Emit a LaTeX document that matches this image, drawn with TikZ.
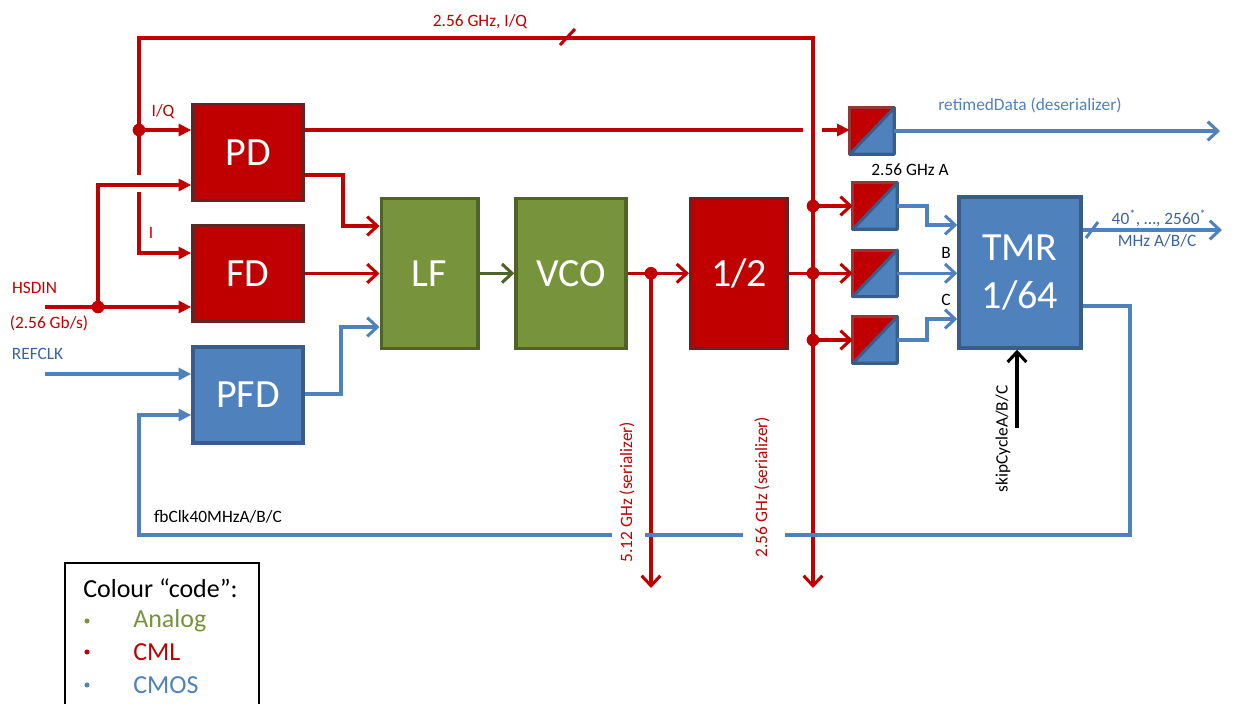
\documentclass[tikz,border=0pt]{standalone}
\usepackage{fontspec}
\setmainfont{Carlito}
\usetikzlibrary{arrows.meta,calc}
\definecolor{cml}{HTML}{C00000}
\definecolor{cmlb}{HTML}{632523}
\definecolor{cmlbb}{HTML}{953735}
\definecolor{cmos}{HTML}{4F81BD}
\definecolor{cmosb}{HTML}{385D8A}
\definecolor{ana}{HTML}{77933C}
\definecolor{anab}{HTML}{4F6228}
\definecolor{lbl}{HTML}{3A64A3}
\tikzset{
  blk/.style={draw, line width=2.6pt, inner sep=0pt, text=white, align=center, font=\fontsize{30}{36}\selectfont},
  cmlbox/.style={blk, fill=cml, draw=cmlb},
  cmosbox/.style={blk, fill=cmos, draw=cmosb},
  anabox/.style={blk, fill=ana, draw=anab},
  rtbox/.style={minimum width=33pt, minimum height=34.5pt, inner sep=0pt},
  rline/.style={draw=cml, line width=2.3pt},
  bline/.style={draw=cmos, line width=2.3pt},
  varr/.style={-{Straight Barb[length=7.5pt,width=14pt]}},
  farr/.style={-{Triangle[length=9.5pt,width=9pt]}},
  jdot/.style={circle, fill=cml, inner sep=0pt, minimum size=9.5pt},
  lab/.style={font=\fontsize{13}{15}\selectfont, inner sep=0pt},
  leg/.style={font=\fontsize{19.5}{22}\selectfont, inner sep=0pt, anchor=west}
}
\begin{document}
\begin{tikzpicture}[x=0.75pt,y=-0.75pt]
\useasboundingbox (0,0) rectangle (1233,704);

% blocks
\node[cmlbox, minimum width=82.5pt, minimum height=72pt] (PD) at (248,152.5) {PD};
\node[cmlbox, minimum width=82.5pt, minimum height=72pt] (FD) at (248,273.5) {FD};
\node[cmosbox, minimum width=82.5pt, minimum height=72pt] (PFD) at (248,395) {PFD};
\node[anabox, minimum width=72.4pt, minimum height=112.5pt] (LF) at (429.5,273.3) {LF};
\node[anabox, minimum width=82.5pt, minimum height=112.5pt] (VCO) at (571,273.3) {VCO};
\node[cmlbox, minimum width=72.75pt, minimum height=112.5pt] (HALF) at (739.2,273.3) {1/2};
\node[cmosbox, minimum width=91.5pt, minimum height=113.25pt] (TMR) at (1020,272.5) {TMR\\1/64};

% retimer boxes
\node[rtbox] (R1) at (872,131) {};
\node[rtbox] (R2) at (875,206) {};
\node[rtbox] (R3) at (875,273.3) {};
\node[rtbox] (R4) at (875,340) {};
\foreach \r in {R1,R2,R3,R4}{
  \fill[cml] (\r.north west) -- (\r.north east) -- (\r.south west) -- cycle;
  \fill[cmos] (\r.north east) -- (\r.south east) -- (\r.south west) -- cycle;
  \draw[cmlbb, line width=2.3pt, line cap=round] (\r.south west) -- (\r.north west) -- (\r.north east);
  \draw[cmosb, line width=2.3pt, line join=round, line cap=round] (\r.north east) -- (\r.south east) -- (\r.south west) -- cycle;
}

% top I/Q loop and 2.56 GHz serializer output
\node[jdot] (dIQ) at (139,130) {};
\coordinate (s256) at (813,588);
\draw[rline, varr] (139,175) -- (dIQ.center) -- (139,38) -- (813,38) -- (s256);
\draw[rline, farr] (dIQ.center) -- (dIQ.center -| PD.west);
\coordinate (cI) at (139,253);
\draw[rline, farr] (139,192) -- (cI) -- (cI -| FD.west);
\draw[cml, line width=2.3pt] (560,45) -- (575,29);
\node[lab, text=cml] (lIQ2) at (480,22) {2.56 GHz, I/Q};
\node[lab, text=cml] (lIQ) at (163,112) {I/Q};
\node[lab, text=cml] (lI) at (151,233) {I};

% HSDIN
\coordinate (hin) at (45,307);
\node[jdot] (dIN) at (98,307) {};
\draw[rline, farr] (hin) -- (hin -| FD.west);
\coordinate (cP2) at (98,185);
\draw[rline, farr] (dIN.center) -- (cP2) -- (cP2 -| PD.west);
\node[lab, text=cml] (lH) at (34.5,288) {HSDIN};
\node[lab, text=cml] (lH2) at (49,323) {(2.56 Gb/s)};

% REFCLK
\coordinate (rin) at (45,374);
\draw[bline, farr] (rin) -- (rin -| PFD.west);
\node[lab, text=lbl] (lR) at (37.5,354) {REFCLK};

% PD outputs
\coordinate (pa) at (803,130);
\draw[rline] (pa -| PD.east) -- (pa);
\coordinate (pb) at (822,130);
\draw[rline, farr] (pb) -- (pb -| R1.west);
\coordinate (k1) at (343,175);
\coordinate (k2) at (343,226);
\draw[rline, varr] (k1 -| PD.east) -- (k1) -- (k2) -- (k2 -| LF.west);
\draw[rline, varr] (FD.east) -- (FD.east -| LF.west);
\coordinate (k3) at (341,394);
\coordinate (k4) at (341,327);
\draw[bline, varr] (k3 -| PFD.east) -- (k3) -- (k4) -- (k4 -| LF.west);

% LF - VCO - 1/2
\draw[draw=anab, line width=2.3pt, varr] (LF.east) -- (VCO.west);
\draw[rline, varr] (VCO.east) -- (HALF.west);
\node[jdot] (d512) at (651,273.3) {};
\coordinate (s512) at (651,588);
\draw[rline, varr] (d512.center) -- (s512);
\node[lab, text=cml, rotate=90] (l512) at (627,492) {5.12 GHz (serializer)};
\node[lab, text=cml, rotate=90] (l256) at (762,487) {2.56 GHz (serializer)};

% 1/2 to retimers
\node[jdot] (dA) at (813,206) {};
\node[jdot] (dB) at (813,273.3) {};
\node[jdot] (dC) at (813,340) {};
\draw[rline] (HALF.east) -- (dB.center);
\draw[rline, varr] (dA.center) -- (dA.center -| R2.west);
\draw[rline, varr] (dB.center) -- (dB.center -| R3.west);
\draw[rline, varr] (dC.center) -- (dC.center -| R4.west);

% retimer outputs
\coordinate (rdo) at (1220,131);
\draw[bline, varr] (R1.east) -- (rdo);
\node[lab, text=cmos] (lrd) at (1030,105) {retimedData (deserializer)};
\node[lab] (lA) at (910,170) {2.56 GHz A};
\node[lab] (lB) at (946,253) {B};
\node[lab] (lC) at (946,300) {C};
\coordinate (m2) at (927,225);
\draw[bline, varr] (R2.east) -- (R2.east -| m2) -- (m2) -- (m2 -| TMR.west);
\draw[bline, varr] (R3.east) -- (R3.east -| TMR.west);
\coordinate (m4) at (927,319);
\draw[bline, varr] (R4.east) -- (R4.east -| m4) -- (m4) -- (m4 -| TMR.west);

% TMR outputs
\coordinate (to) at (1222,230);
\draw[bline, varr] (to -| TMR.east) -- (to);
\draw[cmos, line width=2.3pt] (1086,238) -- (1098,222);
\node[lab, text=lbl] (lo1) at (1159,218) {40\textsuperscript{*}, \dots, 2560\textsuperscript{*}};
\node[lab, text=lbl] (lo2) at (1157,241) {MHz A/B/C};

% feedback
\coordinate (f1) at (1130,306);
\draw[bline] (f1 -| TMR.east) -- (f1) -- (1130,535) -- (785,535);
\draw[bline] (743,535) -- (645,535);
\coordinate (f2) at (139,415);
\draw[bline, farr] (612,535) -- (139,535) -- (f2) -- (f2 -| PFD.west);
\node[lab] (lfb) at (218,517) {fbClk40MHzA/B/C};

% skipCycle
\coordinate (sk) at (1017,428);
\draw[black, line width=2.3pt, varr] (sk) -- (sk |- TMR.south);
\node[lab, rotate=90] (lsk) at (1003,439) {skipCycleA/B/C};

% legend
\draw[black, line width=1.2pt] (65,712) -- (65,563) -- (259,563) -- (259,712);
\node[leg] (lg0) at (83,588) {Colour “code”:};
\fill[ana] (87,621) circle (1.9pt);
\fill[cml] (87,652) circle (1.9pt);
\fill[cmos] (87,685) circle (1.9pt);
\node[leg, text=ana] (lg1) at (133,621) {Analog};
\node[leg, text=cml] (lg2) at (133,652) {CML};
\node[leg, text=cmos] (lg3) at (133,685) {CMOS};
\end{tikzpicture}
\end{document}
